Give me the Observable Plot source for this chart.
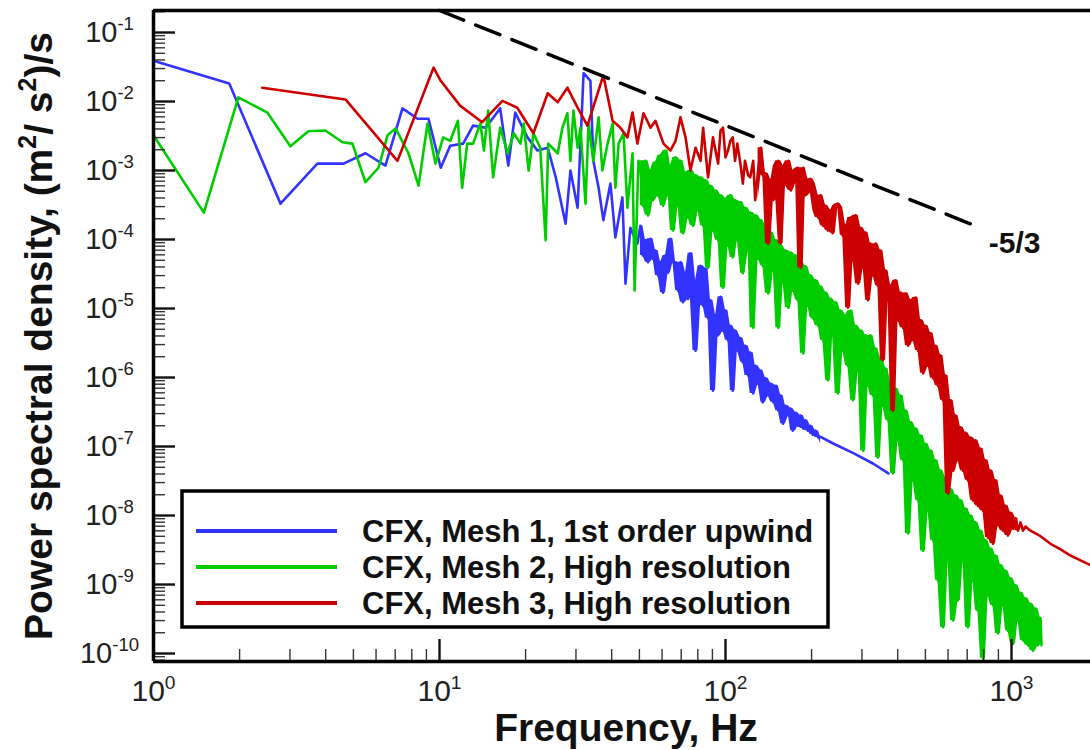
<!DOCTYPE html>
<html><head><meta charset="utf-8">
<script src="https://cdn.jsdelivr.net/npm/d3@7"></script>
<script src="https://cdn.jsdelivr.net/npm/@observablehq/plot@0.6"></script>
<style>
html,body{margin:0;padding:0;background:#fff;overflow:hidden}
#chart{position:relative;width:1090px;height:750px}
</style></head><body><div id="chart"></div>
<script>
// Each point: [frequency in Hz, log10 of power spectral density in (m²/s²)/s]
const mesh1 = [[1.00,-1.41],[1.84,-1.74],[2.78,-3.48],[3.74,-2.90],[4.62,-2.90],[5.51,-2.75],[6.47,-2.93],[7.42,-2.10],[8.38,-2.25],[9.15,-2.25],[10.1,-2.96],[10.9,-2.64],[12.1,-2.61],[13.1,-2.35],[14.5,-2.38],[16.3,-2.10],[17.4,-2.93],[18.4,-2.16],[20.3,-2.52],[22.0,-2.71],[23.9,-2.67],[25.5,-3.10],[27.6,-3.77],[28.7,-3.00],[30.4,-3.54],[31.9,-1.59],[33.7,-1.70],[34.5,-2.86],[36.0,-3.25],[37.4,-3.72],[39.6,-3.19],[41.2,-3.97],[43.6,-3.39],[44.7,-4.64],[46.5,-3.83],[49.2,-4.06],
[50.4,-3.80],[51.4,-4.23],[52.5,-4.01],[53.6,-4.33],[54.7,-3.99],[55.8,-4.28],[56.9,-4.16],[58.1,-4.52],[59.3,-4.33],[60.5,-4.77],[61.7,-4.23],[63.0,-4.48],[64.2,-3.99],[65.5,-4.33],[66.9,-4.33],[68.2,-4.74],[69.6,-4.33],[71.0,-4.91],[72.5,-4.48],[74.0,-4.86],[75.4,-4.20],[77.0,-4.67],[78.6,-5.61],[80.2,-4.59],[81.8,-4.38],[83.5,-4.96],[85.1,-4.42],[86.9,-5.14],[88.6,-4.88],[90.4,-6.19],[92.3,-5.10],[94.2,-5.39],[96.1,-4.83],[98.0,-5.32],[100,-5.03],[102,-5.46],[104,-5.25],[106,-6.19],[108,-5.32],[110,-5.61],[113,-5.43],[115,-5.78],[117,-5.54],[120,-5.97],[122,-5.64],[125,-6.23],[127,-5.83],[130,-6.09],[133,-5.90],[135,-6.36],[138,-6.01],[141,-6.26],[144,-6.09],[147,-6.36],[150,-6.12],[153,-6.48],[156,-6.26],[159,-6.67],[162,-6.41],[166,-6.55],[169,-6.45],[172,-6.77],[176,-6.51],[179,-6.70],[183,-6.55],[187,-6.74],[190,-6.62],[194,-6.77],[198,-6.70],[202,-6.83],[206,-6.77],[211,-6.87],[215,-6.86],[239,-6.96],[281,-7.10],[329,-7.25],[371,-7.39]];

const mesh2 = [[1.00,-2.49],[1.50,-3.61],[1.98,-1.94],[2.50,-2.16],[3.01,-2.65],[3.48,-2.43],[3.99,-2.42],[4.58,-2.59],[4.96,-2.61],[5.51,-3.17],[6.12,-2.96],[6.58,-2.49],[7.02,-2.39],[7.79,-2.75],[8.45,-3.22],[9.08,-2.32],[9.68,-2.90],[10.3,-2.52],[10.9,-2.57],[11.6,-2.28],[12.0,-3.25],[12.5,-2.61],[13.1,-2.61],[13.9,-2.32],[14.3,-2.71],[14.8,-2.13],[15.4,-3.10],[16.3,-2.38],[17.3,-2.75],[18.2,-2.46],[19.2,-2.61],[19.7,-2.32],[20.5,-3.00],[21.3,-2.46],[22.5,-2.67],[23.5,-4.01],[24.0,-2.61],[25.9,-2.75],[26.9,-2.38],[28.0,-2.17],[28.7,-2.86],[29.4,-2.13],[30.4,-2.67],[31.1,-2.38],[32.4,-3.48],[33.2,-2.32],[34.5,-2.86],[36.0,-2.23],[37.1,-3.00],[38.7,-2.61],[40.3,-2.32],[41.2,-3.25],[42.3,-2.61],[44.0,-2.46],[45.4,-3.54],[47.3,-2.75],[48.1,-4.74],[49.6,-2.86],
[50.4,-2.93],[51.4,-3.51],[52.5,-2.86],[53.6,-3.65],[54.7,-3.00],[55.8,-3.43],[56.9,-2.88],[58.1,-3.36],[59.3,-2.78],[60.5,-3.51],[61.7,-2.71],[63.0,-3.36],[64.2,-2.93],[65.5,-3.87],[66.9,-2.81],[68.2,-3.51],[69.6,-2.86],[71.0,-3.91],[72.5,-3.03],[74.0,-3.68],[75.4,-3.00],[77.0,-3.80],[78.6,-3.07],[80.2,-3.58],[81.8,-3.10],[83.5,-3.80],[85.1,-3.14],[86.9,-4.41],[88.6,-3.22],[90.4,-3.87],[92.3,-3.29],[94.2,-4.01],[96.1,-3.36],[98.0,-4.70],[100,-3.41],[102,-4.09],[104,-3.36],[106,-4.26],[108,-3.43],[110,-4.01],[113,-3.46],[115,-4.49],[117,-3.54],[120,-4.16],[122,-3.61],[125,-5.28],[127,-3.65],[130,-4.28],[133,-3.72],[135,-4.38],[138,-3.80],[141,-4.78],[144,-3.90],[147,-4.45],[150,-4.01],[153,-5.28],[156,-4.09],[159,-4.62],[162,-4.16],[166,-4.99],[169,-4.19],[172,-4.74],[176,-4.23],[179,-4.88],[183,-4.33],[187,-5.65],[190,-4.39],[194,-4.96],[198,-4.52],[202,-5.14],[206,-4.59],[211,-5.25],[215,-4.68],[219,-5.46],[224,-4.77],[228,-6.04],[233,-4.86],[237,-5.39],[242,-4.91],[247,-6.23],[252,-5.03],[257,-5.61],[263,-5.10],[268,-5.83],[274,-5.03],[279,-6.33],[285,-5.25],[291,-5.90],[297,-5.32],[303,-7.06],[309,-5.39],[315,-6.12],[321,-5.39],[328,-6.26],[335,-5.58],[341,-7.16],[348,-5.72],[355,-6.41],[363,-5.87],[370,-6.62],[378,-6.09],[385,-7.39],[393,-6.16],[401,-6.91],[409,-6.26],[418,-7.20],[426,-6.48],[435,-8.26],[444,-6.65],[453,-7.49],[462,-6.74],[471,-7.78],[481,-6.84],[491,-8.51],[500,-6.96],[511,-7.93],[521,-7.06],[532,-8.36],[542,-7.20],[553,-8.94],[565,-7.35],[576,-9.62],[588,-7.46],[600,-8.65],[612,-7.62],[625,-9.52],[637,-7.71],[650,-9.23],[663,-7.78],[677,-8.65],[690,-7.90],[704,-9.62],[719,-8.00],[733,-8.94],[748,-8.10],[763,-9.38],[779,-8.22],[795,-10.07],[811,-8.36],[828,-9.16],[845,-8.48],[862,-9.30],[879,-8.58],[897,-9.71],[915,-8.72],[934,-9.30],[953,-8.80],[972,-9.67],[992,-8.91],[1012,-9.86],[1033,-9.01],[1054,-9.52],[1075,-9.12],[1097,-9.81],[1119,-9.20],[1142,-9.88],[1165,-9.28],[1189,-9.96],[1213,-9.35],[1238,-9.88],[1263,-9.49],[1273,-9.88]];

const mesh3 = [[2.40,-1.80],[4.69,-1.97],[7.13,-2.86],[9.53,-1.51],[10.1,-1.70],[11.8,-2.06],[14.1,-2.30],[16.6,-1.99],[18.7,-2.09],[21.3,-2.46],[23.9,-1.88],[25.9,-2.01],[28.0,-1.80],[30.4,-2.09],[32.9,-2.35],[37.4,-1.62],[40.3,-2.28],[42.9,-2.38],[45.4,-2.52],[47.3,-2.16],[49.2,-2.61],[51.7,-2.17],[54.7,-2.38],[56.9,-2.28],[60.7,-2.61],[64.2,-2.71],[66.9,-2.57],[69.6,-2.23],[72.5,-2.52],[75.4,-3.00],[78.6,-2.67],[81.8,-2.86],[83.5,-2.38],[86.9,-3.10],[90.4,-2.52],[94.2,-2.90],
[96.1,-2.42],[98.0,-2.38],[100,-2.81],[102,-2.71],[104,-2.57],[106,-2.52],[108,-2.86],[110,-2.61],[113,-2.93],[115,-3.19],[117,-2.86],[120,-3.07],[122,-3.10],[125,-2.86],[127,-3.43],[130,-3.00],[133,-2.67],[135,-3.07],[138,-3.04],[141,-4.06],[144,-3.14],[147,-3.43],[150,-2.93],[153,-2.86],[156,-4.06],[159,-3.22],[162,-2.93],[166,-2.86],[169,-3.29],[172,-3.19],[176,-3.00],[179,-2.96],[183,-4.41],[187,-2.96],[190,-3.36],[194,-3.33],[198,-3.12],[202,-3.19],[206,-3.58],[211,-3.68],[215,-3.36],[219,-3.80],[224,-3.51],[228,-3.87],[233,-3.58],[237,-3.91],[242,-3.51],[247,-3.48],[252,-3.54],[257,-3.94],[263,-3.80],[268,-4.99],[274,-3.68],[279,-4.30],[285,-3.65],[291,-4.64],[297,-3.83],[303,-4.41],[309,-3.90],[315,-4.88],[321,-4.06],[328,-4.52],[335,-4.06],[341,-4.67],[348,-4.16],[355,-5.75],[363,-4.45],[370,-4.88],[378,-4.67],[385,-6.48],[393,-4.59],[401,-5.17],[409,-4.77],[418,-5.28],[426,-4.78],[435,-5.54],[444,-4.88],[453,-5.46],[462,-4.84],[471,-5.61],[481,-5.17],[491,-5.94],[500,-5.25],[511,-5.83],[521,-5.36],[532,-6.01],[542,-5.54],[553,-6.12],[565,-5.68],[576,-6.33],[588,-5.97],[600,-7.68],[612,-6.33],[625,-7.35],[637,-6.55],[650,-7.20],[663,-6.72],[677,-7.35],[690,-6.80],[704,-7.49],[719,-6.87],[733,-7.78],[748,-6.91],[763,-7.86],[779,-7.03],[795,-7.93],[811,-7.20],[828,-8.32],[845,-7.35],[862,-8.41],[879,-7.49],[897,-8.14],[915,-7.71],[934,-8.22],[953,-7.86],[972,-8.29],[992,-7.96],[1012,-8.19],[1033,-8.04],[1054,-8.22],[1075,-8.10],[1097,-8.22],[1119,-8.16],[1165,-8.22],[1263,-8.30],[1369,-8.41],[1484,-8.49],[1608,-8.58],[1743,-8.65],[1889,-8.72]];

const seriesNames = ["CFX, Mesh 1, 1st order upwind", "CFX, Mesh 2, High resolution", "CFX, Mesh 3, High resolution"];
const seriesColors = ["#3333ff", "#00cc00", "#cc0000"];
const seriesData = [mesh1, mesh2, mesh3];
// frequency range (Hz) in which each spectrum is so densely sampled that it reads as a filled band
const denseRange = [[50, 215], [50, 1273], [130, 1060]];

// -5/3 reference slope line, endpoints [Hz, PSD]
const slopeLine = [[10, 0.2084], [780, 1.47e-4]];
const slopeLabel = [{f: 1025, psd: 8.75e-5, text: "-5/3"}];

const xTickExponents = [0, 1, 2, 3];
const yTickExponents = [-10, -9, -8, -7, -6, -5, -4, -3, -2, -1];
const xTitle = "Frequency, Hz";
const yTitle = "Power spectral density, (m^{2}/ s^{2})/s";

const xDomain = [1, 1889];
const yDomain = [7.66e-11, 0.2084];
const W = 1090, H = 750, ML = 153, MR = 0, MT = 10, MB = 89;

const xDecPerPx = Math.log10(xDomain[1] / xDomain[0]) / (W - ML - MR);
const yDecPerPx = Math.log10(yDomain[1] / yDomain[0]) / (H - MT - MB);
const xAt = px => xDomain[0] * 10 ** (px * xDecPerPx);
const yAt = px => yDomain[0] * 10 ** (px * yDecPerPx);

const xMajor = xTickExponents.map(e => 10 ** e);
const yMajor = yTickExponents.map(e => 10 ** e);
const xMinor = [], yMinor = [];
for (let e = 0; e <= 3; e++) for (let m = 2; m <= 9; m++) { const v = m * 10 ** e; if (v < xDomain[1]) xMinor.push(v); }
for (let e = -11; e <= -1; e++) for (let m = 2; m <= 9; m++) { const v = m * 10 ** e; if (v > yDomain[0] && v < yDomain[1]) yMinor.push(v); }

// local min/max band of the densely sampled part (what the dense trace fills on screen)
function band(pts, [fMin, fMax]) {
  const out = [];
  for (let i = 1; i < pts.length - 1; i++) {
    if (pts[i][0] < fMin || pts[i][0] > fMax) continue;
    const w = [pts[i - 1][1], pts[i][1], pts[i + 1][1]];
    out.push({f: pts[i][0], lo: 10 ** Math.min(...w), hi: 10 ** Math.max(...w)});
  }
  return out;
}

const font = "'Liberation Sans', Arial, Helvetica, sans-serif";

const plot = Plot.plot({
  width: W, height: H, marginLeft: ML, marginRight: MR, marginTop: MT, marginBottom: MB,
  style: {fontFamily: font, background: "white", overflow: "visible"},
  x: {type: "log", domain: xDomain, axis: null},
  y: {type: "log", domain: yDomain, axis: null},
  marks: [
    ...seriesData.flatMap((pts, i) => [
      Plot.areaY(band(pts, denseRange[i]), {x: "f", y1: "lo", y2: "hi", fill: seriesColors[i], clip: true}),
      Plot.line(pts, {x: d => d[0], y: d => 10 ** d[1], stroke: seriesColors[i], strokeWidth: 2.6, clip: true})
    ]),
    Plot.line(slopeLine, {x: d => d[0], y: d => d[1], stroke: "black", strokeWidth: 3.5, strokeDasharray: "26,13"}),
    Plot.text(slopeLabel, {x: "f", y: "psd", text: "text", fontSize: 30, fontWeight: "bold", fill: "#111"}),
    // ticks (inward)
    Plot.ruleY(yMajor, {y: d => d, x1: xDomain[0], x2: xAt(22), stroke: "#111", strokeWidth: 2.4}),
    Plot.ruleY(yMinor, {y: d => d, x1: xDomain[0], x2: xAt(12), stroke: "#333", strokeWidth: 1.4}),
    Plot.ruleX(xMajor, {x: d => d, y1: yDomain[0], y2: yAt(22), stroke: "#111", strokeWidth: 2.4}),
    Plot.ruleX(xMinor, {x: d => d, y1: yDomain[0], y2: yAt(12), stroke: "#333", strokeWidth: 1.4}),
    // frame lines
    Plot.ruleX([xDomain[0]], {stroke: "black", strokeWidth: 3.5}),
    Plot.ruleY([yDomain[0]], {stroke: "black", strokeWidth: 3.5}),
    Plot.ruleY([yDomain[1]], {stroke: "black", strokeWidth: 3.5}),
    // tick labels
    Plot.text(yTickExponents, {y: e => 10 ** e, frameAnchor: "left", dx: -44, text: e => `10^{${e}}`, textAnchor: "middle", lineAnchor: "middle", fontSize: 29, fill: "#222"}),
    Plot.text(xTickExponents, {x: e => 10 ** e, frameAnchor: "bottom", dy: 30, text: e => `10^{${e}}`, textAnchor: "middle", lineAnchor: "middle", fontSize: 30, fill: "#222"}),
    // titles
    Plot.text([xTitle], {frameAnchor: "bottom", dx: 4, dy: 67, text: d => d, fontSize: 39, fontWeight: "bold", fill: "#111", textAnchor: "middle", lineAnchor: "middle"}),
    Plot.text([yTitle], {frameAnchor: "left", dx: -114, text: d => d, rotate: -90, fontSize: 39, fontWeight: "bold", fill: "#111", textAnchor: "middle", lineAnchor: "middle"})
  ]
});

document.getElementById("chart").appendChild(plot);

// turn "a^{b}" into real superscript tspans, keeping the text centred where it was anchored
function applySuperscripts(root) {
  d3.select(root).selectAll("text").each(function () {
    const t = this.textContent;
    if (!t.includes("^{")) return;
    const cs = getComputedStyle(this);
    const fs = parseFloat(cs.fontSize) || 16;
    const anchor = cs.textAnchor;
    const parts = t.split(/\^\{([^}]*)\}/);
    const sel = d3.select(this);
    sel.text(null);
    let shifted = false;
    const spans = [];
    parts.forEach((p, i) => {
      if (i % 2 === 1) {
        spans.push(sel.append("tspan").attr("dy", -0.42 * fs).attr("font-size", 0.64 * fs).text(p));
        shifted = true;
      } else if (p) {
        const ts = sel.append("tspan").text(p);
        if (shifted) { ts.attr("dy", 0.42 * fs); shifted = false; }
        spans.push(ts);
      }
    });
    const w = this.getComputedTextLength();
    sel.style("text-anchor", "start");
    const shift = anchor === "middle" ? -w / 2 : anchor === "end" ? -w : 0;
    if (spans.length) spans[0].attr("dx", shift);
  });
}
applySuperscripts(plot);

// legend inside the plot area
const lg = d3.select(plot).append("g").attr("font-family", font);
lg.append("rect").attr("x", 182).attr("y", 491).attr("width", 646).attr("height", 136)
  .attr("fill", "white").attr("stroke", "black").attr("stroke-width", 3.5);
seriesNames.forEach((name, i) => {
  const y = 531 + 36 * i;
  lg.append("line").attr("x1", 196).attr("x2", 337).attr("y1", y).attr("y2", y)
    .attr("stroke", seriesColors[i]).attr("stroke-width", 4);
  lg.append("text").attr("x", 362).attr("y", y).attr("dy", "0.36em").attr("text-anchor", "start")
    .style("text-anchor", "start")
    .attr("font-size", 31).attr("font-weight", "bold").attr("fill", "#111").text(name);
});
</script></body></html>
